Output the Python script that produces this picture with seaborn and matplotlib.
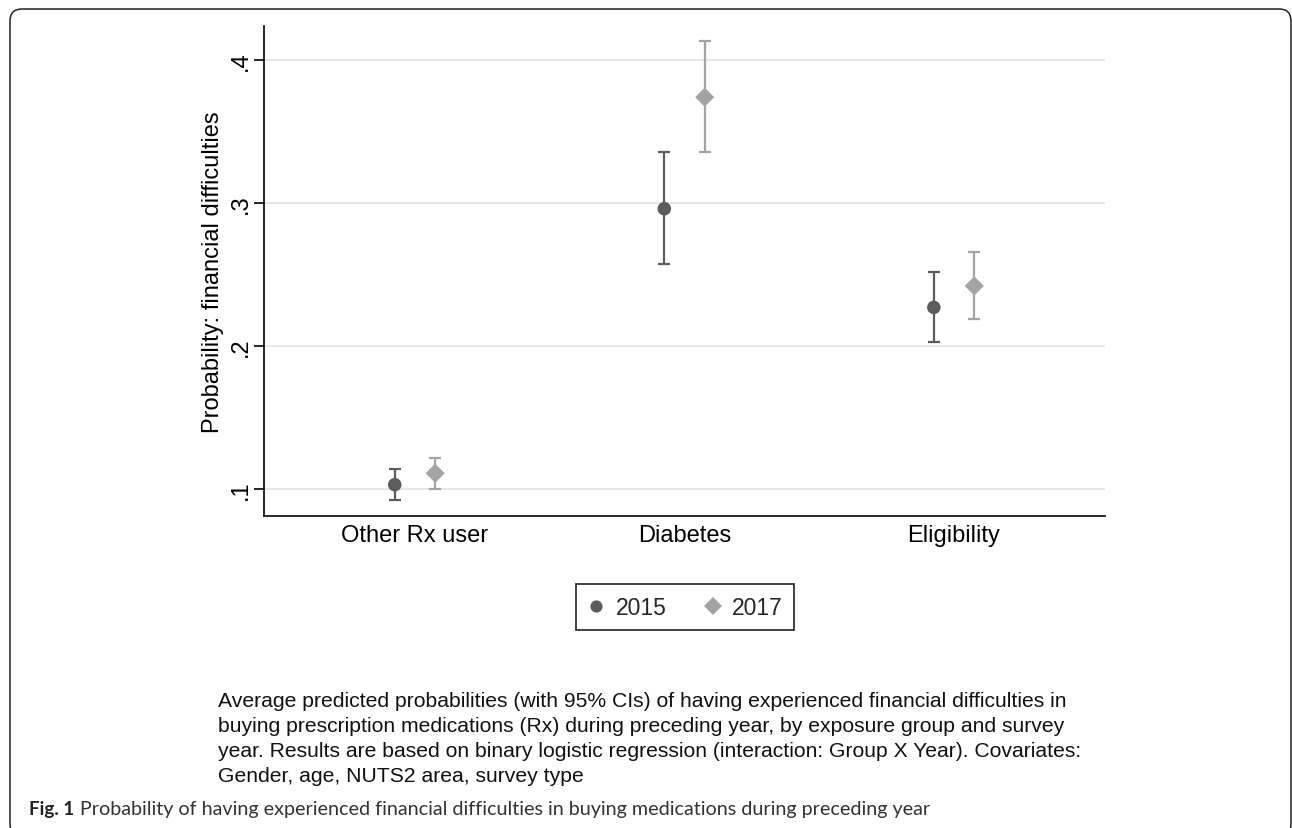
import matplotlib

matplotlib.use("Agg")
import matplotlib.pyplot as plt
import matplotlib.transforms as mtransforms
import pandas as pd
import seaborn as sns
from matplotlib.patches import FancyBboxPatch

# values
groups = ["Other Rx user", "Diabetes", "Eligibility"]
years = ["2015", "2017"]
est_2015 = [0.103, 0.296, 0.227]
lo_2015 = [0.092, 0.257, 0.203]
hi_2015 = [0.114, 0.336, 0.252]
est_2017 = [0.111, 0.374, 0.242]
lo_2017 = [0.100, 0.336, 0.219]
hi_2017 = [0.122, 0.413, 0.266]
yticks = [0.1, 0.2, 0.3, 0.4]
ytick_labels = [".1", ".2", ".3", ".4"]

note_lines = [
    "Average predicted probabilities (with 95% CIs) of having experienced financial difficulties in",
    "buying prescription medications (Rx) during preceding year, by exposure group and survey",
    "year. Results are based on binary logistic regression (interaction: Group X Year). Covariates:",
    "Gender, age, NUTS2 area, survey type",
]
fig_label = "Fig. 1"
fig_title = "Probability of having experienced financial difficulties in buying medications during preceding year"

colors = {"2015": "#5c5c5c", "2017": "#a3a3a3"}
markers = {"2015": "o", "2017": "D"}
dodge = {"2015": -0.075, "2017": 0.075}

rows = []
for year, est, lo, hi in [("2015", est_2015, lo_2015, hi_2015), ("2017", est_2017, lo_2017, hi_2017)]:
    for i, g in enumerate(groups):
        rows.append({"group": g, "year": year, "pos": i + dodge[year], "est": est[i], "lo": lo[i], "hi": hi[i]})
df = pd.DataFrame(rows)

sns.set_theme(style="white")
plt.rcParams["font.family"] = ["Liberation Sans", "DejaVu Sans"]

W, H = 1292, 829
fig = plt.figure(figsize=(W / 100, H / 100), dpi=100)
ax = fig.add_axes([264 / W, 1 - 517 / H, (1105 - 264) / W, (517 - 27) / H])

for y in yticks:
    ax.axhline(y, color="#e6e6e6", linewidth=1.4, zorder=0)

for year in years:
    sub = df[df["year"] == year]
    ax.errorbar(sub["pos"], sub["est"], yerr=[sub["est"] - sub["lo"], sub["hi"] - sub["est"]],
                fmt="none", ecolor=colors[year], elinewidth=1.6, capsize=4, capthick=1.6, zorder=2)

sns.scatterplot(data=df, x="pos", y="est", hue="year", style="year", hue_order=years, style_order=years,
                palette=colors, markers=markers, s=95, linewidth=0, zorder=3, ax=ax)

ax.set_xlim(-0.56, 2.56)
ax.set_ylim(0.0811, 0.4238)
ax.set_xticks(range(len(groups)))
ax.set_xticklabels(groups, fontsize=17)
ax.set_yticks(yticks)
ax.set_yticklabels(ytick_labels, fontsize=17, rotation=90, va="center")
ax.tick_params(axis="x", length=0, pad=6, colors="black")
ax.tick_params(axis="y", length=7, width=1.2, pad=2, left=True, colors="black")
ax.set_xlabel("")
ax.set_ylabel("Probability: financial difficulties", fontsize=17, labelpad=4, color="black")
sns.despine(ax=ax)
for side in ["left", "bottom"]:
    ax.spines[side].set_color("black")
    ax.spines[side].set_linewidth(1.2)

sns.move_legend(ax, "center", bbox_to_anchor=(0.5006, -0.186), ncol=2, title=None, frameon=True,
                fancybox=False, edgecolor="black", fontsize=16.5, columnspacing=1.6,
                handlelength=0.8, handletextpad=0.45, borderpad=0.5, borderaxespad=0, markerscale=0.9)
leg = ax.get_legend()
leg.get_frame().set_linewidth(1.3)

for k, line in enumerate(note_lines):
    fig.text(218 / W, 1 - (702 + 25 * k) / H, line, fontsize=15.2, va="center", ha="left", color="#111111")
fig.text(29 / W, 1 - 810 / H, fig_label, fontsize=13.5, fontweight="bold", family=["Lato", "DejaVu Sans"],
         va="center", ha="left", color="#222222")
fig.text(80 / W, 1 - 810 / H, fig_title, fontsize=14.2, family=["Lato", "DejaVu Sans"],
         va="center", ha="left", color="#333333")

# rounded page frame, open at the bottom edge
px = mtransforms.Affine2D().scale(1 / W, 1 / H) + fig.transFigure
frame = FancyBboxPatch((10, -8), 1281, H - 10 + 8, boxstyle="round,pad=0,rounding_size=12",
                       transform=px, fill=False, edgecolor="#222222", linewidth=1.1)
fig.patches.append(frame)

fig.savefig("out.png", dpi=100)
